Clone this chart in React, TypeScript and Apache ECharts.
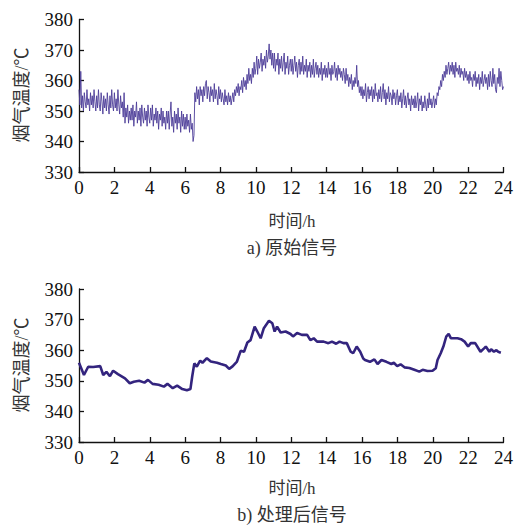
import React, { useEffect, useRef } from "react";
import * as echarts from "echarts";

// Raw signal, sampled every 0.05 h from 0 to 24 h (°C), one row per hour
const rawStepHours = 0.05;
const rawTemps: number[] = [
  357, 352, 363, 351, 355, 350, 356, 353, 351, 357, 352, 354, 350, 356, 352, 355, 351, 357, 353, 350,
  355, 351, 357, 352, 350, 356, 353, 349, 355, 351, 354, 350, 356, 352, 349, 355, 351, 357, 352, 350,
  356, 351, 354, 350, 357, 352, 349, 355, 351, 353, 348, 356, 346, 351, 348, 352, 346, 350, 347, 351,
  347, 352, 345, 350, 348, 353, 346, 350, 347, 351, 345, 352, 348, 346, 351, 347, 350, 345, 352, 348,
  346, 351, 347, 352, 345, 349, 347, 351, 346, 350, 344, 349, 347, 351, 345, 350, 346, 348, 344, 350,
  346, 350, 344, 349, 353, 345, 348, 343, 350, 346, 349, 344, 351, 346, 348, 343, 350, 345, 349, 344,
  348, 344, 349, 345, 347, 343, 349, 344, 346, 340, 342, 356, 353, 358, 354, 357, 352, 358, 355, 357,
  353, 358, 355, 359, 360, 354, 358, 356, 353, 358, 355, 357, 353, 359, 354, 357, 355, 352, 358, 354,
  357, 353, 356, 354, 352, 357, 353, 355, 352, 356, 353, 355, 352, 354, 356, 353, 357, 355, 358, 356,
  359, 355, 358, 357, 360, 356, 361, 358, 360, 357, 362, 359, 364, 360, 362, 359, 364, 361, 366, 362,
  364, 368, 362, 367, 364, 366, 369, 363, 367, 365, 368, 364, 370, 366, 368, 372, 367, 370, 365, 369,
  364, 369, 363, 367, 365, 369, 362, 367, 364, 368, 363, 366, 369, 362, 366, 364, 368, 362, 365, 367,
  363, 367, 362, 365, 368, 363, 366, 361, 365, 367, 362, 366, 363, 368, 362, 365, 363, 367, 361, 365,
  363, 366, 361, 365, 362, 367, 361, 364, 366, 362, 365, 361, 364, 362, 366, 360, 364, 362, 365, 361,
  364, 361, 366, 362, 364, 360, 365, 362, 363, 366, 361, 364, 360, 365, 362, 364, 361, 363, 360, 364,
  362, 359, 364, 360, 362, 358, 361, 359, 362, 357, 360, 358, 361, 359, 365, 358, 360, 356, 358, 355,
  358, 354, 357, 355, 359, 353, 356, 358, 354, 357, 355, 358, 353, 357, 354, 359, 355, 356, 353, 357,
  354, 358, 353, 356, 359, 354, 357, 352, 356, 354, 358, 353, 356, 355, 352, 357, 354, 356, 352, 355,
  357, 352, 355, 353, 356, 351, 354, 357, 352, 355, 351, 354, 356, 352, 354, 350, 355, 352, 354, 351,
  355, 351, 353, 356, 350, 354, 352, 355, 350, 353, 351, 355, 352, 350, 354, 351, 356, 352, 354, 351,
  353, 355, 351, 354, 352, 356, 355, 358, 357, 360, 358, 362, 360, 363, 361, 365, 362, 364, 366, 362,
  365, 363, 366, 362, 365, 361, 366, 363, 364, 362, 365, 361, 364, 362, 363, 360, 364, 361, 363, 360,
  362, 359, 363, 360, 361, 358, 362, 360, 363, 358, 361, 359, 362, 357, 361, 359, 363, 358, 360, 362,
  359, 361, 357, 362, 358, 363, 360, 358, 364, 359, 362, 357, 356, 361, 359, 364, 358, 363, 360, 357,
  358,
];

// Processed (smoothed) signal
const smoothHours: number[] = [
  0, 0.28, 0.52, 0.8, 1.2, 1.37, 1.55, 1.75, 1.93, 2.2, 2.6, 2.87, 3.1, 3.4, 3.7, 3.9,
  4.16, 4.5, 4.8, 5.0, 5.3, 5.55, 5.84, 6.1, 6.3, 6.4, 6.52, 6.66, 6.85, 6.98, 7.23,
  7.45, 7.8, 8.02, 8.3, 8.49, 8.68, 8.93, 9.14, 9.33, 9.52, 9.7, 9.93, 10.08, 10.27,
  10.45, 10.74, 10.93, 11.06, 11.2, 11.4, 11.68, 11.96, 12.1, 12.33, 12.6, 12.9, 13.08,
  13.27, 13.46, 13.83, 14.1, 14.3, 14.54, 14.73, 14.95, 15.14, 15.36, 15.5, 15.7, 15.9,
  16.07, 16.17, 16.45, 16.7, 16.88, 17.1, 17.38, 17.66, 17.8, 17.99, 18.18, 18.4, 18.68,
  18.96, 19.24, 19.43, 19.7, 19.99, 20.17, 20.27, 20.45, 20.6, 20.76, 20.9, 21.03, 21.4,
  21.6, 21.8, 22.0, 22.15, 22.4, 22.7, 22.9, 23.0, 23.2, 23.3, 23.46, 23.6, 23.7, 23.85,
];
const smoothTemps: number[] = [
  355.9, 351.9, 354.6, 354.5, 354.8, 351.9, 352.9, 351.5, 353.3, 352.2, 350.8, 349.2, 349.7, 350.0, 349.4, 350.3,
  349.0, 348.7, 348.1, 349.0, 347.6, 348.4, 347.3, 346.9, 347.3, 351.4, 355.7, 354.6, 356.6, 355.9, 357.4,
  356.3, 355.9, 355.5, 355.0, 353.9, 354.7, 356.3, 359.8, 359.5, 362.5, 363.3, 367.7, 366.1, 363.9,
  367.2, 369.6, 368.8, 366.1, 367.7, 365.8, 366.1, 365.3, 364.5, 365.6, 365.0, 365.0, 363.3,
  363.9, 362.8, 362.8, 362.3, 362.8, 362.1, 362.8, 362.3, 362.3, 359.5, 359.0, 361.2, 359.5,
  357.3, 356.8, 356.2, 357.0, 355.5, 356.8, 356.2, 355.5, 355.9, 354.8, 355.4, 354.4, 354.2,
  353.6, 353.0, 353.6, 353.2, 353.3, 354.1, 356.8, 359.0, 361.2, 364.4, 365.3, 363.9, 363.9,
  363.6, 362.8, 361.2, 362.3, 362.3, 359.5, 360.6, 361.2, 359.5, 360.3, 359.5, 360.0, 359.5, 359.2,
];

const xTickLabels = ["0", "2", "4", "6", "8", "10", "12", "14", "16", "18", "20", "22", "24"];
const yTickLabels = ["330", "340", "350", "360", "370", "380"];
const yTitle = "烟气温度/℃";
const xTitle = "时间/h";
const captionA = "a) 原始信号";
const captionB = "b) 处理后信号";

const SERIF = "'Liberation Serif', 'Times New Roman', 'Noto Sans CJK SC', serif";
const MIXED = "'Liberation Serif', 'Noto Sans CJK SC', serif";

export default function App() {
  const ref = useRef<HTMLDivElement>(null);
  useEffect(() => {
    if (!ref.current) return;
    const chart = echarts.init(ref.current, undefined, { renderer: "svg" });
    const rawData = rawTemps.map((v, i) => [Math.round(i * rawStepHours * 100) / 100, v]);
    const smoothData = smoothHours.map((h, i) => [h, smoothTemps[i]]);

    const xAxisBase = (gridIndex: number) => ({
      type: "value" as const,
      gridIndex,
      min: 0,
      max: 24,
      interval: 2,
      axisLine: { show: true, lineStyle: { color: "#111", width: 1.3 } },
      axisTick: { show: true, inside: true, length: 5, lineStyle: { color: "#111", width: 1.3 } },
      splitLine: { show: false },
      axisLabel: {
        color: "#111",
        fontFamily: SERIF,
        fontSize: 19,
        margin: 6,
        formatter: (v: number) => xTickLabels[Math.round(v / 2)] ?? String(v),
      },
    });
    const yAxisBase = (gridIndex: number) => ({
      type: "value" as const,
      gridIndex,
      min: 330,
      max: 380,
      interval: 10,
      axisLine: { show: true, lineStyle: { color: "#111", width: 1.3 } },
      axisTick: { show: true, inside: true, length: 5, lineStyle: { color: "#111", width: 1.3 } },
      splitLine: { show: false },
      axisLabel: {
        color: "#111",
        fontFamily: SERIF,
        fontSize: 19,
        margin: 6,
        formatter: (v: number) => yTickLabels[Math.round((v - 330) / 10)] ?? String(v),
      },
    });

    const textStyle = (text: string, size: number) => ({
      text,
      fill: "#333",
      font: `${size}px ${MIXED}`,
      textAlign: "center",
      textVerticalAlign: "middle",
    });

    chart.setOption({
      animation: false,
      backgroundColor: "#fff",
      grid: [
        { left: 79, top: 19.5, width: 427, height: 152.5 },
        { left: 79, top: 289, width: 427, height: 153 },
      ],
      xAxis: [xAxisBase(0), xAxisBase(1)],
      yAxis: [yAxisBase(0), yAxisBase(1)],
      series: [
        {
          type: "line",
          xAxisIndex: 0,
          yAxisIndex: 0,
          data: rawData,
          showSymbol: false,
          symbol: "none",
          lineStyle: { color: "#4d3d98", width: 0.9 },
        },
        {
          type: "line",
          xAxisIndex: 1,
          yAxisIndex: 1,
          data: smoothData,
          showSymbol: false,
          symbol: "none",
          lineStyle: { color: "#33247e", width: 2.6 },
        },
      ],
      graphic: [
        { type: "text", x: 22, y: 95, rotation: Math.PI / 2, style: textStyle(yTitle, 18) },
        { type: "text", x: 22, y: 365, rotation: Math.PI / 2, style: textStyle(yTitle, 18) },
        { type: "text", x: 292, y: 221, style: textStyle(xTitle, 17) },
        { type: "text", x: 292, y: 248, style: textStyle(captionA, 18) },
        { type: "text", x: 292, y: 488, style: textStyle(xTitle, 17) },
        { type: "text", x: 292, y: 515, style: textStyle(captionB, 18) },
      ],
    });
    return () => chart.dispose();
  }, []);
  return (
    <div
      ref={ref}
      style={{ position: "fixed", left: 0, top: 0, width: 516, height: 527 }}
    />
  );
}
